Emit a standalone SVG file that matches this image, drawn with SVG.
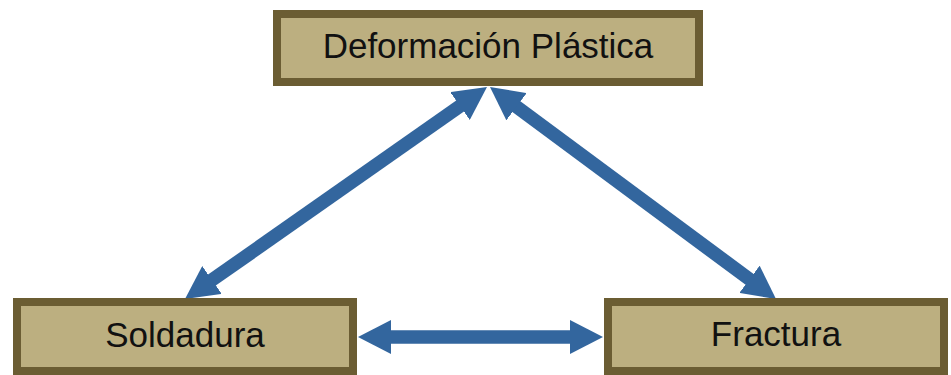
<svg xmlns="http://www.w3.org/2000/svg" width="951" height="375" viewBox="0 0 951 375">
  <defs>
    <style>
      .box { fill: #BCAF80; stroke: #6B5D33; stroke-width: 8; }
      .lbl { font-family: "Liberation Sans", Arial, sans-serif; font-size: 35px; fill: #111111; text-anchor: middle; }
      .con { stroke: #33669E; stroke-width: 13.5; fill: none; marker-start: url(#head); marker-end: url(#head); }
    </style>
    <marker id="head" markerUnits="userSpaceOnUse" markerWidth="34" markerHeight="34" refX="1" refY="17" orient="auto-start-reverse" viewBox="0 0 34 34">
      <path d="M0,0 L33,17 L0,34 Z" fill="#33669E"/>
    </marker>
  </defs>
  <rect width="951" height="375" fill="#FFFFFF"/>
  <g id="connectors">
    <line class="con" x1="460.8" y1="105.4" x2="211.2" y2="280.6"/>
    <line class="con" x1="515.7" y1="106.1" x2="750.3" y2="279.9"/>
    <line class="con" x1="390" y1="337" x2="571" y2="337"/>
  </g>
  <g id="deformacion">
    <rect class="box" x="277" y="14" width="422" height="68"/>
    <text class="lbl" x="488" y="58">Deformación Plástica</text>
  </g>
  <g id="soldadura">
    <rect class="box" x="17" y="302" width="336" height="69"/>
    <text class="lbl" x="185" y="347">Soldadura</text>
  </g>
  <g id="fractura">
    <rect class="box" x="608" y="302" width="336" height="69"/>
    <text class="lbl" x="776" y="346">Fractura</text>
  </g>
</svg>
